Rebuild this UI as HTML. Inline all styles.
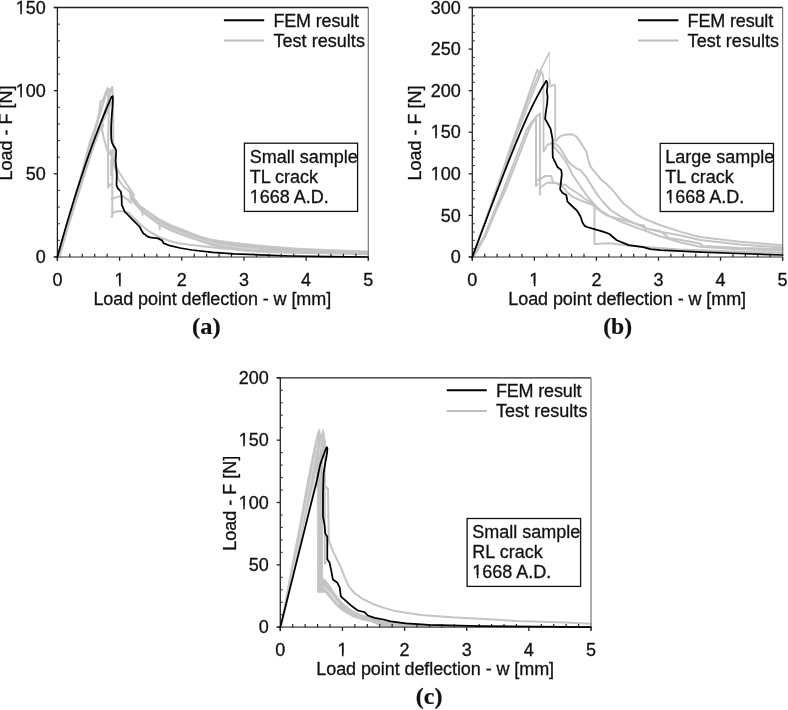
<!DOCTYPE html>
<html><head><meta charset="utf-8"><style>
html,body{margin:0;padding:0;background:#fff;}
svg{display:block;will-change:transform;}
text{font-family:"Liberation Sans",sans-serif;font-size:18px;fill:#111;stroke:#111;stroke-width:0.3px;}
text.lab{font-family:"Liberation Serif",serif;font-weight:bold;font-size:22.5px;stroke:#111;stroke-width:0.2px;}
</style></head><body>
<svg width="788" height="710" viewBox="0 0 788 710">
<rect width="788" height="710" fill="#fff"/>
<polyline points="57.6,257 69,218.5 81.5,175 83,169.6 90,142.3 97,122.7 99.8,111 100.6,101.5 102.6,101.1 107.6,88.6 109,91.3 112,87.7" fill="none" stroke="#c4c4c4" stroke-width="2.4" stroke-linejoin="round" stroke-linecap="round"/>
<polyline points="57.6,257 107.6,88.6" fill="none" stroke="#c4c4c4" stroke-width="2.0" stroke-linejoin="round" stroke-linecap="round"/>
<polyline points="58.4,257 112.3,87.3" fill="none" stroke="#c4c4c4" stroke-width="2.0" stroke-linejoin="round" stroke-linecap="round"/>
<polyline points="59.4,257 74,205.5 91.2,152 103,121 109.5,106 112.5,101" fill="none" stroke="#c4c4c4" stroke-width="2.2" stroke-linejoin="round" stroke-linecap="round"/>
<polyline points="112.3,87.3 113.2,100 113.2,140 114.1,150 114.6,160 115.7,165.6 118.5,171.3 124,180 130,189 134,195" fill="none" stroke="#c4c4c4" stroke-width="2.0" stroke-linejoin="round" stroke-linecap="round"/>
<polyline points="107.6,88.6 108.8,111.7 108.1,147.6 108.1,187.6 110.6,184.2" fill="none" stroke="#c4c4c4" stroke-width="2.0" stroke-linejoin="round" stroke-linecap="round"/>
<polyline points="103.3,125 101.9,128.6 103.3,136.3 107,150 111.6,155.6 114.1,165.5 116.6,172 118,178.6 123,186 129.2,191.5 133,198" fill="none" stroke="#c4c4c4" stroke-width="2.0" stroke-linejoin="round" stroke-linecap="round"/>
<polyline points="110.5,150 114.1,165.5 116.5,172" fill="none" stroke="#c4c4c4" stroke-width="2.0" stroke-linejoin="round" stroke-linecap="round"/>
<polyline points="111.2,160 111.2,175" fill="none" stroke="#c4c4c4" stroke-width="2.0" stroke-linejoin="round" stroke-linecap="round"/>
<polyline points="112.3,150 112.3,216.8 111.3,216.8" fill="none" stroke="#c4c4c4" stroke-width="2.0" stroke-linejoin="round" stroke-linecap="round"/>
<polyline points="111.5,199 115.5,197.6 119,196.4 123.2,196.5 127.5,199.3 131,203" fill="none" stroke="#c4c4c4" stroke-width="2.0" stroke-linejoin="round" stroke-linecap="round"/>
<polyline points="112,213.2 116,211.6 119.7,211.1 124,211.5 128.2,212.5 134,218 140.8,225 150,232 160,237.5 170,241 180,243.6 200,246 220,248.3 260,251 300,252.5 368,254.3" fill="none" stroke="#c4c4c4" stroke-width="2.0" stroke-linejoin="round" stroke-linecap="round"/>
<polygon points="130,191 133.5,196.5 140,205.3 146.3,209.7 159,218.6 171.7,225 184.4,229.8 190,232.2 200,236 210,238.8 220,240.5 240,243 260,245.2 285,247.3 300,248.3 340,250 368,251 368,254.1 340,253.7 300,253.4 285,253.2 260,252.3 240,250.8 220,247.6 210,245 200,241.6 190,238.2 184.4,236.3 171.7,231.5 159,225.2 146.3,215.8 140,210.5 133.5,203 130,199" fill="#c4c4c4" stroke="#c4c4c4" stroke-width="0.8" stroke-linejoin="round"/>
<polyline points="142,209.5 150,214.6 159,222.6 171.7,229 184.4,234 200,239.3 220,244.8 240,247.6 260,249.6" fill="none" stroke="#d9d9d9" stroke-width="0.8" stroke-linejoin="round" stroke-linecap="round"/>
<polyline points="142.5,210 142.5,215" fill="none" stroke="#c4c4c4" stroke-width="2.0" stroke-linejoin="round" stroke-linecap="round"/>
<polyline points="159.7,224 159.7,229.2" fill="none" stroke="#c4c4c4" stroke-width="2.0" stroke-linejoin="round" stroke-linecap="round"/>
<line x1="53.8" y1="7.5" x2="368.3" y2="7.5" stroke="#222" stroke-width="1.3"/>
<line x1="368.3" y1="7.5" x2="368.3" y2="260.6" stroke="#777" stroke-width="1.2"/>
<line x1="57.4" y1="7.5" x2="57.4" y2="260.6" stroke="#222" stroke-width="1.3"/>
<line x1="53.8" y1="257.0" x2="368.3" y2="257.0" stroke="#747474" stroke-width="1.7"/>
<line x1="53.8" y1="257" x2="57.4" y2="257" stroke="#222" stroke-width="1.3"/>
<text x="45.8" y="263.2" text-anchor="end">0</text>
<line x1="57.4" y1="240.37" x2="59.8" y2="240.37" stroke="#333" stroke-width="1.1"/>
<line x1="57.4" y1="223.73" x2="59.8" y2="223.73" stroke="#333" stroke-width="1.1"/>
<line x1="57.4" y1="207.1" x2="59.8" y2="207.1" stroke="#333" stroke-width="1.1"/>
<line x1="57.4" y1="190.47" x2="59.8" y2="190.47" stroke="#333" stroke-width="1.1"/>
<line x1="53.8" y1="173.83" x2="57.4" y2="173.83" stroke="#222" stroke-width="1.3"/>
<text x="45.8" y="180.03" text-anchor="end">50</text>
<line x1="57.4" y1="157.2" x2="59.8" y2="157.2" stroke="#333" stroke-width="1.1"/>
<line x1="57.4" y1="140.57" x2="59.8" y2="140.57" stroke="#333" stroke-width="1.1"/>
<line x1="57.4" y1="123.93" x2="59.8" y2="123.93" stroke="#333" stroke-width="1.1"/>
<line x1="57.4" y1="107.3" x2="59.8" y2="107.3" stroke="#333" stroke-width="1.1"/>
<line x1="53.8" y1="90.67" x2="57.4" y2="90.67" stroke="#222" stroke-width="1.3"/>
<text x="45.8" y="96.87" text-anchor="end">100</text>
<line x1="57.4" y1="74.03" x2="59.8" y2="74.03" stroke="#333" stroke-width="1.1"/>
<line x1="57.4" y1="57.4" x2="59.8" y2="57.4" stroke="#333" stroke-width="1.1"/>
<line x1="57.4" y1="40.77" x2="59.8" y2="40.77" stroke="#333" stroke-width="1.1"/>
<line x1="57.4" y1="24.13" x2="59.8" y2="24.13" stroke="#333" stroke-width="1.1"/>
<line x1="53.8" y1="7.5" x2="57.4" y2="7.5" stroke="#222" stroke-width="1.3"/>
<text x="45.8" y="13.7" text-anchor="end">150</text>
<line x1="57.4" y1="257.0" x2="57.4" y2="260.8" stroke="#222" stroke-width="1.3"/>
<text x="57.4" y="286.1" text-anchor="middle">0</text>
<line x1="69.84" y1="253.8" x2="69.84" y2="257.0" stroke="#222" stroke-width="1.2"/>
<line x1="82.27" y1="253.8" x2="82.27" y2="257.0" stroke="#222" stroke-width="1.2"/>
<line x1="94.71" y1="253.8" x2="94.71" y2="257.0" stroke="#222" stroke-width="1.2"/>
<line x1="107.14" y1="253.8" x2="107.14" y2="257.0" stroke="#222" stroke-width="1.2"/>
<line x1="119.58" y1="257.0" x2="119.58" y2="260.8" stroke="#222" stroke-width="1.3"/>
<text x="119.58" y="286.1" text-anchor="middle">1</text>
<line x1="132.02" y1="253.8" x2="132.02" y2="257.0" stroke="#222" stroke-width="1.2"/>
<line x1="144.45" y1="253.8" x2="144.45" y2="257.0" stroke="#222" stroke-width="1.2"/>
<line x1="156.89" y1="253.8" x2="156.89" y2="257.0" stroke="#222" stroke-width="1.2"/>
<line x1="169.32" y1="253.8" x2="169.32" y2="257.0" stroke="#222" stroke-width="1.2"/>
<line x1="181.76" y1="257.0" x2="181.76" y2="260.8" stroke="#222" stroke-width="1.3"/>
<text x="181.76" y="286.1" text-anchor="middle">2</text>
<line x1="194.2" y1="253.8" x2="194.2" y2="257.0" stroke="#222" stroke-width="1.2"/>
<line x1="206.63" y1="253.8" x2="206.63" y2="257.0" stroke="#222" stroke-width="1.2"/>
<line x1="219.07" y1="253.8" x2="219.07" y2="257.0" stroke="#222" stroke-width="1.2"/>
<line x1="231.5" y1="253.8" x2="231.5" y2="257.0" stroke="#222" stroke-width="1.2"/>
<line x1="243.94" y1="257.0" x2="243.94" y2="260.8" stroke="#222" stroke-width="1.3"/>
<text x="243.94" y="286.1" text-anchor="middle">3</text>
<line x1="256.38" y1="253.8" x2="256.38" y2="257.0" stroke="#222" stroke-width="1.2"/>
<line x1="268.81" y1="253.8" x2="268.81" y2="257.0" stroke="#222" stroke-width="1.2"/>
<line x1="281.25" y1="253.8" x2="281.25" y2="257.0" stroke="#222" stroke-width="1.2"/>
<line x1="293.68" y1="253.8" x2="293.68" y2="257.0" stroke="#222" stroke-width="1.2"/>
<line x1="306.12" y1="257.0" x2="306.12" y2="260.8" stroke="#222" stroke-width="1.3"/>
<text x="306.12" y="286.1" text-anchor="middle">4</text>
<line x1="318.56" y1="253.8" x2="318.56" y2="257.0" stroke="#222" stroke-width="1.2"/>
<line x1="330.99" y1="253.8" x2="330.99" y2="257.0" stroke="#222" stroke-width="1.2"/>
<line x1="343.43" y1="253.8" x2="343.43" y2="257.0" stroke="#222" stroke-width="1.2"/>
<line x1="355.86" y1="253.8" x2="355.86" y2="257.0" stroke="#222" stroke-width="1.2"/>
<line x1="368.3" y1="257.0" x2="368.3" y2="260.8" stroke="#222" stroke-width="1.3"/>
<text x="368.3" y="286.1" text-anchor="middle">5</text>
<text x="93.4" y="304.8" textLength="237.8">Load point deflection - w [mm]</text>
<text transform="translate(12.1,132.95) rotate(-90)" text-anchor="middle">Load - F [N]</text>
<text x="206.3" y="333.6" text-anchor="middle" class="lab" textLength="28.5" lengthAdjust="spacingAndGlyphs">(a)</text>
<polyline points="57.4,257 61.27,243.02 65.14,229.43 69.01,216.22 72.89,203.41 76.76,190.99 80.63,178.95 84.5,167.31 88.37,156.05 92.24,145.19 96.11,134.71 99.99,124.63 103.86,114.93 107.73,105.63 111.6,96.71 112.6,96.2 112.9,99 112.6,105 111.8,115.2 111.2,125 111.1,132 111.3,139 112,142.5 113.4,145.6 115.2,148 116.2,150.6 116,155 115.6,160.6 116.3,168.5 116.8,174.1 116.5,185.4 118,188.7 120.8,191.5 121.6,196.1 121.8,204.8 124.6,211.5 128,215 133.5,220.6 139.4,226.5 143.2,233.3 147.8,236.6 150,237.3 158,238.4 162,240.4 164,243.4 170,245.7 180,248 191.9,250 212.8,252.4 233.8,253.8 260,254.9 290,256 330,256.7 368,257" fill="none" stroke="#000" stroke-width="1.75" stroke-linejoin="round" stroke-linecap="round"/>
<line x1="223.9" y1="20.3" x2="264.2" y2="20.3" stroke="#000" stroke-width="2"/>
<line x1="223.9" y1="40.4" x2="264.2" y2="40.4" stroke="#bdbdbd" stroke-width="2"/>
<text x="273.4" y="27.2" textLength="85.6">FEM result</text>
<text x="273.4" y="46.5" textLength="91.5">Test results</text>
<rect x="244.4" y="143.2" width="113.2" height="68.2" fill="#fff" stroke="#111" stroke-width="1.3"/>
<text x="249.7" y="163.1">Small sample</text>
<text x="249.7" y="183.2">TL crack</text>
<text x="249.7" y="203.3">1668 A.D.</text>
<polyline points="472.3,257 486,219 499.5,180.4 509.5,150 516,131.2 523,111 530,90.7 537.3,69.6 539.3,73.5 541.5,71.5 543,75.2 543.5,80 543.5,151.7 547.3,144.9 551.8,143.2" fill="none" stroke="#c4c4c4" stroke-width="1.8" stroke-linejoin="round" stroke-linecap="round"/>
<polyline points="472.3,257 486,219 499.8,180.4 510,150 517,130 524,111 532,90 540.8,69.6 549.3,52.7" fill="none" stroke="#c4c4c4" stroke-width="1.7" stroke-linejoin="round" stroke-linecap="round"/>
<polyline points="472.3,257 486,219.5 500.3,180.4 511,150 522,121 530,100.5 536,85 541.5,72" fill="none" stroke="#c4c4c4" stroke-width="1.7" stroke-linejoin="round" stroke-linecap="round"/>
<polyline points="549.3,53.5 549.3,79.4" fill="none" stroke="#d4d4d4" stroke-width="1.0" stroke-linejoin="round" stroke-linecap="round"/>
<polyline points="549.5,79.4 550.7,86.5 554.9,84.4 555.2,90 555.2,140.4" fill="none" stroke="#c4c4c4" stroke-width="1.8" stroke-linejoin="round" stroke-linecap="round"/>
<polyline points="472.3,257 484.3,236 494,212 503.4,190 515,160 526.7,130 532,121.5 536,118.6 536,186.1 537.5,184" fill="none" stroke="#c4c4c4" stroke-width="2.0" stroke-linejoin="round" stroke-linecap="round"/>
<polyline points="473.5,257 485.5,236 495,213 505.5,190 518,158 529.5,128.5 535,118 539.9,113.5 539.9,194.6" fill="none" stroke="#c4c4c4" stroke-width="2.0" stroke-linejoin="round" stroke-linecap="round"/>
<polyline points="555.2,140.4 555.8,140.7 560.8,135.9 565.6,134.8 571.5,134.2 576.5,136.7 581.4,143.6 586.3,151.5 588.3,160 590.6,166.8 595.1,172.4 600.7,179.2 606.4,183.7 614.9,192.9 622.8,202.8 630,208.6 636.1,214.1 645.2,219.2 660.5,225.3 680.8,231.9 700,237 740,241.8 782.6,245.2" fill="none" stroke="#c4c4c4" stroke-width="2.0" stroke-linejoin="round" stroke-linecap="round"/>
<polyline points="551.8,143.2 555,143.6 559.7,147.6 565.6,157.4 568.6,162 571.4,164.5 577.1,169 580.4,170.1 586.1,176.9 591.7,185.9 597.4,194.9 603,202 610.5,210 620.8,216.6 632.6,222.5 646.4,228.4 660,231.8 680.8,235.5 700,240 740,244.5 782.6,247.4" fill="none" stroke="#c4c4c4" stroke-width="2.0" stroke-linejoin="round" stroke-linecap="round"/>
<polyline points="552.5,145 559.7,153.5 564.7,160 568,165.6 572.5,174.7 579.3,184.8 587.2,196.1 595.1,205.1 600.7,210.7 606.4,214.1 610,216.4 622.8,222.5 638.5,228.4 660,236.3 680.8,242.6 700,246.8 740,249.3 782.6,250.7" fill="none" stroke="#c4c4c4" stroke-width="2.0" stroke-linejoin="round" stroke-linecap="round"/>
<polyline points="536,181.1 545.3,176 551.3,176 553,182.8 558,183.5 565.6,185 571.5,189.5 579.4,194.5 583,197.5 590.6,202.3 594.5,206.2 594.5,244.1 609,243.2 628.7,245.5 648.4,247.3 680,249.5 720,251 782.6,253" fill="none" stroke="#c4c4c4" stroke-width="2.0" stroke-linejoin="round" stroke-linecap="round"/>
<polyline points="539.9,187.8 547,182.8 555.5,182.8 562.2,186.1 566.9,192 572.5,196.8 583.3,201.5 591.7,204.5 599.6,210.7 606.4,215.2 610.9,216.6 624.7,220.5 638.5,224.4 644.4,225.4 644.4,228.4 660,231 664.5,234.4 668.6,238 680.8,240 700,243.6 703.1,246.1 740,248 782.6,249" fill="none" stroke="#c4c4c4" stroke-width="2.0" stroke-linejoin="round" stroke-linecap="round"/>
<line x1="468.7" y1="7.5" x2="782.6" y2="7.5" stroke="#222" stroke-width="1.3"/>
<line x1="782.6" y1="7.5" x2="782.6" y2="260.6" stroke="#777" stroke-width="1.2"/>
<line x1="472.3" y1="7.5" x2="472.3" y2="260.6" stroke="#222" stroke-width="1.3"/>
<line x1="468.7" y1="257.0" x2="782.6" y2="257.0" stroke="#747474" stroke-width="1.7"/>
<line x1="468.7" y1="257" x2="472.3" y2="257" stroke="#222" stroke-width="1.3"/>
<text x="460.7" y="263.2" text-anchor="end">0</text>
<line x1="472.3" y1="248.68" x2="474.7" y2="248.68" stroke="#333" stroke-width="1.1"/>
<line x1="472.3" y1="240.37" x2="474.7" y2="240.37" stroke="#333" stroke-width="1.1"/>
<line x1="472.3" y1="232.05" x2="474.7" y2="232.05" stroke="#333" stroke-width="1.1"/>
<line x1="472.3" y1="223.73" x2="474.7" y2="223.73" stroke="#333" stroke-width="1.1"/>
<line x1="468.7" y1="215.42" x2="472.3" y2="215.42" stroke="#222" stroke-width="1.3"/>
<text x="460.7" y="221.62" text-anchor="end">50</text>
<line x1="472.3" y1="207.1" x2="474.7" y2="207.1" stroke="#333" stroke-width="1.1"/>
<line x1="472.3" y1="198.78" x2="474.7" y2="198.78" stroke="#333" stroke-width="1.1"/>
<line x1="472.3" y1="190.47" x2="474.7" y2="190.47" stroke="#333" stroke-width="1.1"/>
<line x1="472.3" y1="182.15" x2="474.7" y2="182.15" stroke="#333" stroke-width="1.1"/>
<line x1="468.7" y1="173.83" x2="472.3" y2="173.83" stroke="#222" stroke-width="1.3"/>
<text x="460.7" y="180.03" text-anchor="end">100</text>
<line x1="472.3" y1="165.52" x2="474.7" y2="165.52" stroke="#333" stroke-width="1.1"/>
<line x1="472.3" y1="157.2" x2="474.7" y2="157.2" stroke="#333" stroke-width="1.1"/>
<line x1="472.3" y1="148.88" x2="474.7" y2="148.88" stroke="#333" stroke-width="1.1"/>
<line x1="472.3" y1="140.57" x2="474.7" y2="140.57" stroke="#333" stroke-width="1.1"/>
<line x1="468.7" y1="132.25" x2="472.3" y2="132.25" stroke="#222" stroke-width="1.3"/>
<text x="460.7" y="138.45" text-anchor="end">150</text>
<line x1="472.3" y1="123.93" x2="474.7" y2="123.93" stroke="#333" stroke-width="1.1"/>
<line x1="472.3" y1="115.62" x2="474.7" y2="115.62" stroke="#333" stroke-width="1.1"/>
<line x1="472.3" y1="107.3" x2="474.7" y2="107.3" stroke="#333" stroke-width="1.1"/>
<line x1="472.3" y1="98.98" x2="474.7" y2="98.98" stroke="#333" stroke-width="1.1"/>
<line x1="468.7" y1="90.67" x2="472.3" y2="90.67" stroke="#222" stroke-width="1.3"/>
<text x="460.7" y="96.87" text-anchor="end">200</text>
<line x1="472.3" y1="82.35" x2="474.7" y2="82.35" stroke="#333" stroke-width="1.1"/>
<line x1="472.3" y1="74.03" x2="474.7" y2="74.03" stroke="#333" stroke-width="1.1"/>
<line x1="472.3" y1="65.72" x2="474.7" y2="65.72" stroke="#333" stroke-width="1.1"/>
<line x1="472.3" y1="57.4" x2="474.7" y2="57.4" stroke="#333" stroke-width="1.1"/>
<line x1="468.7" y1="49.08" x2="472.3" y2="49.08" stroke="#222" stroke-width="1.3"/>
<text x="460.7" y="55.28" text-anchor="end">250</text>
<line x1="472.3" y1="40.77" x2="474.7" y2="40.77" stroke="#333" stroke-width="1.1"/>
<line x1="472.3" y1="32.45" x2="474.7" y2="32.45" stroke="#333" stroke-width="1.1"/>
<line x1="472.3" y1="24.13" x2="474.7" y2="24.13" stroke="#333" stroke-width="1.1"/>
<line x1="472.3" y1="15.82" x2="474.7" y2="15.82" stroke="#333" stroke-width="1.1"/>
<line x1="468.7" y1="7.5" x2="472.3" y2="7.5" stroke="#222" stroke-width="1.3"/>
<text x="460.7" y="13.7" text-anchor="end">300</text>
<line x1="472.3" y1="257.0" x2="472.3" y2="260.8" stroke="#222" stroke-width="1.3"/>
<text x="472.3" y="286.1" text-anchor="middle">0</text>
<line x1="484.71" y1="253.8" x2="484.71" y2="257.0" stroke="#222" stroke-width="1.2"/>
<line x1="497.12" y1="253.8" x2="497.12" y2="257.0" stroke="#222" stroke-width="1.2"/>
<line x1="509.54" y1="253.8" x2="509.54" y2="257.0" stroke="#222" stroke-width="1.2"/>
<line x1="521.95" y1="253.8" x2="521.95" y2="257.0" stroke="#222" stroke-width="1.2"/>
<line x1="534.36" y1="257.0" x2="534.36" y2="260.8" stroke="#222" stroke-width="1.3"/>
<text x="534.36" y="286.1" text-anchor="middle">1</text>
<line x1="546.77" y1="253.8" x2="546.77" y2="257.0" stroke="#222" stroke-width="1.2"/>
<line x1="559.18" y1="253.8" x2="559.18" y2="257.0" stroke="#222" stroke-width="1.2"/>
<line x1="571.6" y1="253.8" x2="571.6" y2="257.0" stroke="#222" stroke-width="1.2"/>
<line x1="584.01" y1="253.8" x2="584.01" y2="257.0" stroke="#222" stroke-width="1.2"/>
<line x1="596.42" y1="257.0" x2="596.42" y2="260.8" stroke="#222" stroke-width="1.3"/>
<text x="596.42" y="286.1" text-anchor="middle">2</text>
<line x1="608.83" y1="253.8" x2="608.83" y2="257.0" stroke="#222" stroke-width="1.2"/>
<line x1="621.24" y1="253.8" x2="621.24" y2="257.0" stroke="#222" stroke-width="1.2"/>
<line x1="633.66" y1="253.8" x2="633.66" y2="257.0" stroke="#222" stroke-width="1.2"/>
<line x1="646.07" y1="253.8" x2="646.07" y2="257.0" stroke="#222" stroke-width="1.2"/>
<line x1="658.48" y1="257.0" x2="658.48" y2="260.8" stroke="#222" stroke-width="1.3"/>
<text x="658.48" y="286.1" text-anchor="middle">3</text>
<line x1="670.89" y1="253.8" x2="670.89" y2="257.0" stroke="#222" stroke-width="1.2"/>
<line x1="683.3" y1="253.8" x2="683.3" y2="257.0" stroke="#222" stroke-width="1.2"/>
<line x1="695.72" y1="253.8" x2="695.72" y2="257.0" stroke="#222" stroke-width="1.2"/>
<line x1="708.13" y1="253.8" x2="708.13" y2="257.0" stroke="#222" stroke-width="1.2"/>
<line x1="720.54" y1="257.0" x2="720.54" y2="260.8" stroke="#222" stroke-width="1.3"/>
<text x="720.54" y="286.1" text-anchor="middle">4</text>
<line x1="732.95" y1="253.8" x2="732.95" y2="257.0" stroke="#222" stroke-width="1.2"/>
<line x1="745.36" y1="253.8" x2="745.36" y2="257.0" stroke="#222" stroke-width="1.2"/>
<line x1="757.78" y1="253.8" x2="757.78" y2="257.0" stroke="#222" stroke-width="1.2"/>
<line x1="770.19" y1="253.8" x2="770.19" y2="257.0" stroke="#222" stroke-width="1.2"/>
<line x1="782.6" y1="257.0" x2="782.6" y2="260.8" stroke="#222" stroke-width="1.3"/>
<text x="782.6" y="286.1" text-anchor="middle">5</text>
<text x="508.3" y="304.8" textLength="237.8">Load point deflection - w [mm]</text>
<text transform="translate(420.9,132.95) rotate(-90)" text-anchor="middle">Load - F [N]</text>
<text x="617.6" y="333.6" text-anchor="middle" class="lab" textLength="28.9" lengthAdjust="spacingAndGlyphs">(b)</text>
<polyline points="472.3,257 478.3,240.98 484.3,224.97 490.3,209.02 496.3,193.16 502.3,177.48 508.3,162.08 514.3,147.09 520.3,132.64 525.3,121.14 530.3,110.24 534.3,102.04 538.3,94.37 541.3,89 543.8,84.81 545.5,82.11 546.4,80.8 547.3,82.5 547.5,86.5 546.8,91.2 547.6,96.5 547.2,103 546.2,110 545.6,114 545.1,118.9 547.2,122.5 550.7,129.2 552.6,139.7 552.6,150 552.8,157.4 557.7,167.3 561.3,170.1 561.8,174.7 560.1,189.3 562.4,192.7 566.3,195 567.5,201.7 572,206 577,210.7 580.5,216.5 582.5,222.5 584.6,225.9 587,227 595.1,229.3 603,231.6 609,233.8 616.8,240.2 628.7,245.1 643.2,247.1 650.3,249.2 660.5,250.2 680.8,251.2 701.1,252.2 740,253.5 782.6,255" fill="none" stroke="#000" stroke-width="1.75" stroke-linejoin="round" stroke-linecap="round"/>
<line x1="638.0" y1="20.2" x2="678.5" y2="20.2" stroke="#000" stroke-width="2"/>
<line x1="638.0" y1="40.6" x2="678.5" y2="40.6" stroke="#bdbdbd" stroke-width="2"/>
<text x="687.6" y="27.1" textLength="85.6">FEM result</text>
<text x="687.6" y="46.7" textLength="91.5">Test results</text>
<rect x="660.2" y="143.4" width="113.3" height="68.1" fill="#fff" stroke="#111" stroke-width="1.3"/>
<text x="665.3" y="162.5">Large sample</text>
<text x="665.3" y="182.6">TL crack</text>
<text x="665.3" y="202.7">1668 A.D.</text>
<polygon points="280.3,627.2 290,575 300.5,520 307.6,480 312,458 315.3,442 317.5,433 319.5,429.2 321.2,436.5 323,429.2 324.2,433 325,446 323.5,456 322.5,462 317.5,462 314,480 305,520 295,567 285,612 281.5,627.2" fill="#c4c4c4" stroke="#c4c4c4" stroke-width="0.8" stroke-linejoin="round"/>
<polyline points="281.5,627.2 299,542 310.7,479.2 317.9,441" fill="none" stroke="#dadada" stroke-width="1.0" stroke-linejoin="round" stroke-linecap="round"/>
<polyline points="302,540 315.4,479.2 321.5,439" fill="none" stroke="#d6d6d6" stroke-width="0.9" stroke-linejoin="round" stroke-linecap="round"/>
<polygon points="317.5,455 322.5,455 322.7,592 317.5,592 317.4,488 316.2,484" fill="#c4c4c4" stroke="#c4c4c4" stroke-width="0.8" stroke-linejoin="round"/>
<polyline points="325,440 324.9,450 324.8,470 324.8,563.8 326,562" fill="none" stroke="#c4c4c4" stroke-width="1.8" stroke-linejoin="round" stroke-linecap="round"/>
<polyline points="326.3,487 328,489 328.6,530 328.9,541.1 334,553.5 338.5,562.5 340.8,567.1 344.2,576.1 348.7,586.2 354.3,593 362.2,598.6 372.4,603.7 381.4,607.1 395,611 420.9,615 451.4,617.3 480,618.8 517.6,621 565.2,622.5 591,623.7" fill="none" stroke="#c4c4c4" stroke-width="2.0" stroke-linejoin="round" stroke-linecap="round"/>
<polygon points="319,580 322.7,578.5 325,579.5 329.5,585.1 334,591.9 339.7,599.8 345.3,605.4 353.2,611 362.2,615 370,617 382.8,619.5 400,622.5 430,624.8 470,626 470,627.2 400,627 382.8,626.5 370,621.5 362.2,619.8 353.2,617 343,611.3 336.3,605.7 330.6,598.9 325,592.2 318,592.5" fill="#c4c4c4" stroke="#c4c4c4" stroke-width="0.8" stroke-linejoin="round"/>
<polyline points="323.5,587 328,591 333,597 338.5,604" fill="none" stroke="#ececec" stroke-width="1.0" stroke-linejoin="round" stroke-linecap="round"/>
<line x1="276.7" y1="377.8" x2="591.0" y2="377.8" stroke="#222" stroke-width="1.3"/>
<line x1="591.0" y1="377.8" x2="591.0" y2="630.8" stroke="#777" stroke-width="1.2"/>
<line x1="280.3" y1="377.8" x2="280.3" y2="630.8" stroke="#222" stroke-width="1.3"/>
<line x1="276.7" y1="627.2" x2="591.0" y2="627.2" stroke="#747474" stroke-width="1.7"/>
<line x1="276.7" y1="627.2" x2="280.3" y2="627.2" stroke="#222" stroke-width="1.3"/>
<text x="268.7" y="633.4" text-anchor="end">0</text>
<line x1="280.3" y1="614.73" x2="282.7" y2="614.73" stroke="#333" stroke-width="1.1"/>
<line x1="280.3" y1="602.26" x2="282.7" y2="602.26" stroke="#333" stroke-width="1.1"/>
<line x1="280.3" y1="589.79" x2="282.7" y2="589.79" stroke="#333" stroke-width="1.1"/>
<line x1="280.3" y1="577.32" x2="282.7" y2="577.32" stroke="#333" stroke-width="1.1"/>
<line x1="276.7" y1="564.85" x2="280.3" y2="564.85" stroke="#222" stroke-width="1.3"/>
<text x="268.7" y="571.05" text-anchor="end">50</text>
<line x1="280.3" y1="552.38" x2="282.7" y2="552.38" stroke="#333" stroke-width="1.1"/>
<line x1="280.3" y1="539.91" x2="282.7" y2="539.91" stroke="#333" stroke-width="1.1"/>
<line x1="280.3" y1="527.44" x2="282.7" y2="527.44" stroke="#333" stroke-width="1.1"/>
<line x1="280.3" y1="514.97" x2="282.7" y2="514.97" stroke="#333" stroke-width="1.1"/>
<line x1="276.7" y1="502.5" x2="280.3" y2="502.5" stroke="#222" stroke-width="1.3"/>
<text x="268.7" y="508.7" text-anchor="end">100</text>
<line x1="280.3" y1="490.03" x2="282.7" y2="490.03" stroke="#333" stroke-width="1.1"/>
<line x1="280.3" y1="477.56" x2="282.7" y2="477.56" stroke="#333" stroke-width="1.1"/>
<line x1="280.3" y1="465.09" x2="282.7" y2="465.09" stroke="#333" stroke-width="1.1"/>
<line x1="280.3" y1="452.62" x2="282.7" y2="452.62" stroke="#333" stroke-width="1.1"/>
<line x1="276.7" y1="440.15" x2="280.3" y2="440.15" stroke="#222" stroke-width="1.3"/>
<text x="268.7" y="446.35" text-anchor="end">150</text>
<line x1="280.3" y1="427.68" x2="282.7" y2="427.68" stroke="#333" stroke-width="1.1"/>
<line x1="280.3" y1="415.21" x2="282.7" y2="415.21" stroke="#333" stroke-width="1.1"/>
<line x1="280.3" y1="402.74" x2="282.7" y2="402.74" stroke="#333" stroke-width="1.1"/>
<line x1="280.3" y1="390.27" x2="282.7" y2="390.27" stroke="#333" stroke-width="1.1"/>
<line x1="276.7" y1="377.8" x2="280.3" y2="377.8" stroke="#222" stroke-width="1.3"/>
<text x="268.7" y="384" text-anchor="end">200</text>
<line x1="280.3" y1="627.2" x2="280.3" y2="631" stroke="#222" stroke-width="1.3"/>
<text x="280.3" y="656.3" text-anchor="middle">0</text>
<line x1="292.73" y1="624" x2="292.73" y2="627.2" stroke="#222" stroke-width="1.2"/>
<line x1="305.16" y1="624" x2="305.16" y2="627.2" stroke="#222" stroke-width="1.2"/>
<line x1="317.58" y1="624" x2="317.58" y2="627.2" stroke="#222" stroke-width="1.2"/>
<line x1="330.01" y1="624" x2="330.01" y2="627.2" stroke="#222" stroke-width="1.2"/>
<line x1="342.44" y1="627.2" x2="342.44" y2="631" stroke="#222" stroke-width="1.3"/>
<text x="342.44" y="656.3" text-anchor="middle">1</text>
<line x1="354.87" y1="624" x2="354.87" y2="627.2" stroke="#222" stroke-width="1.2"/>
<line x1="367.3" y1="624" x2="367.3" y2="627.2" stroke="#222" stroke-width="1.2"/>
<line x1="379.72" y1="624" x2="379.72" y2="627.2" stroke="#222" stroke-width="1.2"/>
<line x1="392.15" y1="624" x2="392.15" y2="627.2" stroke="#222" stroke-width="1.2"/>
<line x1="404.58" y1="627.2" x2="404.58" y2="631" stroke="#222" stroke-width="1.3"/>
<text x="404.58" y="656.3" text-anchor="middle">2</text>
<line x1="417.01" y1="624" x2="417.01" y2="627.2" stroke="#222" stroke-width="1.2"/>
<line x1="429.44" y1="624" x2="429.44" y2="627.2" stroke="#222" stroke-width="1.2"/>
<line x1="441.86" y1="624" x2="441.86" y2="627.2" stroke="#222" stroke-width="1.2"/>
<line x1="454.29" y1="624" x2="454.29" y2="627.2" stroke="#222" stroke-width="1.2"/>
<line x1="466.72" y1="627.2" x2="466.72" y2="631" stroke="#222" stroke-width="1.3"/>
<text x="466.72" y="656.3" text-anchor="middle">3</text>
<line x1="479.15" y1="624" x2="479.15" y2="627.2" stroke="#222" stroke-width="1.2"/>
<line x1="491.58" y1="624" x2="491.58" y2="627.2" stroke="#222" stroke-width="1.2"/>
<line x1="504" y1="624" x2="504" y2="627.2" stroke="#222" stroke-width="1.2"/>
<line x1="516.43" y1="624" x2="516.43" y2="627.2" stroke="#222" stroke-width="1.2"/>
<line x1="528.86" y1="627.2" x2="528.86" y2="631" stroke="#222" stroke-width="1.3"/>
<text x="528.86" y="656.3" text-anchor="middle">4</text>
<line x1="541.29" y1="624" x2="541.29" y2="627.2" stroke="#222" stroke-width="1.2"/>
<line x1="553.72" y1="624" x2="553.72" y2="627.2" stroke="#222" stroke-width="1.2"/>
<line x1="566.14" y1="624" x2="566.14" y2="627.2" stroke="#222" stroke-width="1.2"/>
<line x1="578.57" y1="624" x2="578.57" y2="627.2" stroke="#222" stroke-width="1.2"/>
<line x1="591" y1="627.2" x2="591" y2="631" stroke="#222" stroke-width="1.3"/>
<text x="591" y="656.3" text-anchor="middle">5</text>
<text x="316.3" y="675" textLength="237.8">Load point deflection - w [mm]</text>
<text transform="translate(235.8,503.2) rotate(-90)" text-anchor="middle">Load - F [N]</text>
<text x="429.2" y="704.0" text-anchor="middle" class="lab" textLength="26.7" lengthAdjust="spacingAndGlyphs">(c)</text>
<polyline points="280.3,627.2 317,480 318.6,472 320,465.6 321.7,460 323.4,455.5 325,451.3 326.2,448 326.9,447.2 327.4,448.6 327.3,451 326.6,456 325.9,459.5 324.6,467 323.6,473.5 323,493.8 323,516.3 324.6,525.4 325.2,533.2 327.3,537 327.3,559.2 329.5,562.5 331.2,570.4 332.9,579.5 337.4,582.8 339.7,587.4 340.8,596.4 345.9,600.9 350.9,605.4 357.7,610.5 364.5,612.2 367.8,615.5 374.6,617.8 383.6,619.5 390.5,621.4 405.7,623.4 428.5,624.9 480,626.2 591,627" fill="none" stroke="#000" stroke-width="1.75" stroke-linejoin="round" stroke-linecap="round"/>
<line x1="446.8" y1="390.2" x2="486.8" y2="390.2" stroke="#000" stroke-width="2"/>
<line x1="446.8" y1="411.0" x2="486.8" y2="411.0" stroke="#bdbdbd" stroke-width="2"/>
<text x="495.9" y="397.1" textLength="85.6">FEM result</text>
<text x="495.9" y="417.1" textLength="91.5">Test results</text>
<rect x="467.1" y="518.5" width="113.5" height="67.9" fill="#fff" stroke="#111" stroke-width="1.3"/>
<text x="472.3" y="537.5">Small sample</text>
<text x="472.3" y="557.6">RL crack</text>
<text x="472.3" y="577.7">1668 A.D.</text>
<rect x="16.07" y="94.33" width="4.21" height="4.34" fill="#fff"/>
<rect x="21.87" y="94.33" width="3.57" height="4.34" fill="#fff"/>
<rect x="16.07" y="11.16" width="4.21" height="4.34" fill="#fff"/>
<rect x="21.87" y="11.16" width="3.57" height="4.34" fill="#fff"/>
<rect x="114.89" y="283.56" width="4.21" height="4.34" fill="#fff"/>
<rect x="120.69" y="283.56" width="3.57" height="4.34" fill="#fff"/>
<rect x="250.02" y="200.76" width="4.21" height="4.34" fill="#fff"/>
<rect x="255.82" y="200.76" width="3.57" height="4.34" fill="#fff"/>
<rect x="430.97" y="177.49" width="4.21" height="4.34" fill="#fff"/>
<rect x="436.77" y="177.49" width="3.57" height="4.34" fill="#fff"/>
<rect x="430.97" y="135.91" width="4.21" height="4.34" fill="#fff"/>
<rect x="436.77" y="135.91" width="3.57" height="4.34" fill="#fff"/>
<rect x="529.67" y="283.56" width="4.21" height="4.34" fill="#fff"/>
<rect x="535.47" y="283.56" width="3.57" height="4.34" fill="#fff"/>
<rect x="665.62" y="200.16" width="4.21" height="4.34" fill="#fff"/>
<rect x="671.42" y="200.16" width="3.57" height="4.34" fill="#fff"/>
<rect x="238.97" y="506.16" width="4.21" height="4.34" fill="#fff"/>
<rect x="244.77" y="506.16" width="3.57" height="4.34" fill="#fff"/>
<rect x="238.97" y="443.81" width="4.21" height="4.34" fill="#fff"/>
<rect x="244.77" y="443.81" width="3.57" height="4.34" fill="#fff"/>
<rect x="337.75" y="653.76" width="4.21" height="4.34" fill="#fff"/>
<rect x="343.55" y="653.76" width="3.57" height="4.34" fill="#fff"/>
<rect x="472.62" y="575.16" width="4.21" height="4.34" fill="#fff"/>
<rect x="478.42" y="575.16" width="3.57" height="4.34" fill="#fff"/>
</svg>
</body></html>
